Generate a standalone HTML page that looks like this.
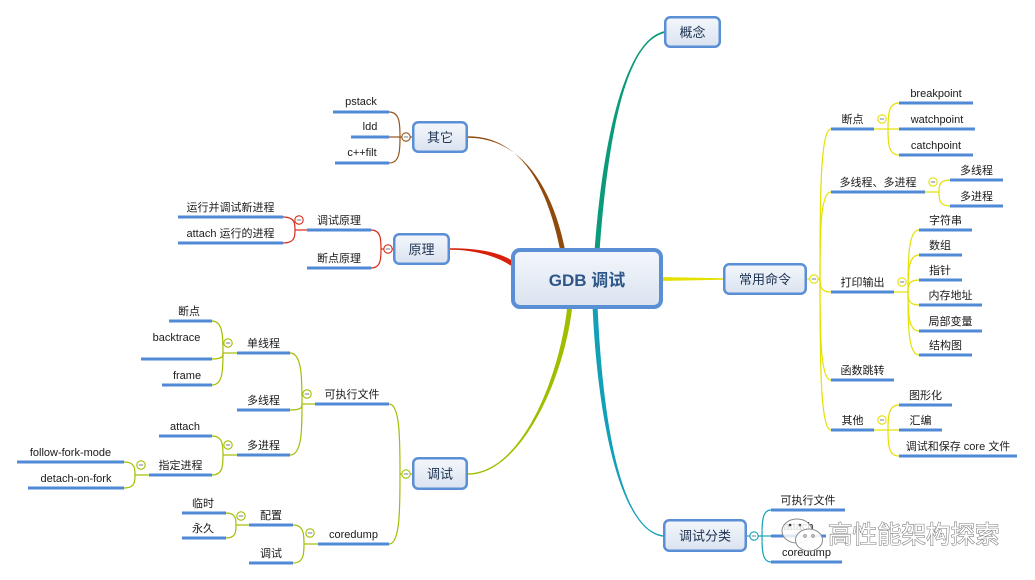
<!DOCTYPE html>
<html>
<head>
<meta charset="utf-8">
<style>
html,body{margin:0;padding:0;background:#fff;}
svg{display:block;}
.t{font-family:"Liberation Sans","Noto Sans CJK SC",sans-serif;font-size:11px;fill:#1a1a1a;text-anchor:middle;}
.n{font-family:"Liberation Sans","Noto Sans CJK SC",sans-serif;font-size:13px;fill:#1c3150;text-anchor:middle;}
.u{stroke:#5089d6;stroke-width:3;fill:none;}
.br{fill:none;stroke-width:1.2;}
.c{fill:#fff;stroke-width:1.1;}
.m{stroke:#6f7f95;stroke-width:1;}
</style>
</head>
<body>
<svg width="1035" height="580" viewBox="0 0 1035 580" xmlns="http://www.w3.org/2000/svg">
<defs>
<linearGradient id="g" x1="0" y1="0" x2="0" y2="1">
<stop offset="0" stop-color="#f4f7fc"/>
<stop offset="1" stop-color="#dae3f0"/>
</linearGradient>
</defs>

<!-- main tapered connectors -->
<path d="M599.5,252 C607.5,140 625,41 665,33 L665,31 C625,39 602.5,140 594.5,252 Z" fill="#0b9a7a"/>
<path d="M565.5,252 C552.5,185 520,137.75 468,137.75 L468,136.25 C520,136.25 547.5,185 560.5,252 Z" fill="#8f4a0c"/>
<path d="M514.4,261.9 C496.4,249.9 470,248.25 450,248.25 L450,249.75 C470,249.75 493.6,254.1 511.6,266.1 Z" fill="#d8210b"/>
<path d="M660,277 L723,278.3 L723,279.7 L660,281 Z" fill="#e4e000"/>
<path d="M572.5,305 C564.5,380 520,474.75 468,474.75 L468,473.25 C520,473.25 559.5,380 567.5,305 Z" fill="#a2bd00"/>
<path d="M592.5,305 C597.5,420 620,530.75 663,536.75 L663,535.25 C620,529.25 602.5,420 597.5,305 Z" fill="#12a0b8"/>

<!-- nodes -->
<rect x="513" y="250" width="148" height="57" rx="7" fill="url(#g)" stroke="#5a8fd6" stroke-width="4"/>
<text x="587" y="286" style="font-family:'Liberation Sans','Noto Sans CJK SC',sans-serif;font-size:17px;font-weight:bold;fill:#2e5689;text-anchor:middle;">GDB 调试</text>

<rect x="665.25" y="17.25" width="54.5" height="29.5" rx="5" fill="url(#g)" stroke="#5a8fd6" stroke-width="2.5"/>
<text class="n" x="692.5" y="37">概念</text>
<rect x="413.25" y="122.25" width="53.5" height="29.5" rx="5" fill="url(#g)" stroke="#5a8fd6" stroke-width="2.5"/>
<text class="n" x="440" y="142">其它</text>
<rect x="394.25" y="234.25" width="54.5" height="29.5" rx="5" fill="url(#g)" stroke="#5a8fd6" stroke-width="2.5"/>
<text class="n" x="421.5" y="254">原理</text>
<rect x="724.25" y="264.25" width="81.5" height="29.5" rx="5" fill="url(#g)" stroke="#5a8fd6" stroke-width="2.5"/>
<text class="n" x="765" y="284">常用命令</text>
<rect x="413.25" y="458.25" width="53.5" height="30.5" rx="5" fill="url(#g)" stroke="#5a8fd6" stroke-width="2.5"/>
<text class="n" x="440" y="478.5">调试</text>
<rect x="664.25" y="520.25" width="81.5" height="30.5" rx="5" fill="url(#g)" stroke="#5a8fd6" stroke-width="2.5"/>
<text class="n" x="705" y="540.5">调试分类</text>

<!-- brown: 其它 -->
<g class="br" stroke="#98541a">
<path d="M400,137 L412,137"/>
<path d="M389,112 C400,112 400,124.5 400,137"/>
<path d="M389,137 L400,137"/>
<path d="M389,163 C400,163 400,150 400,137"/>
</g>

<!-- red: 原理 -->
<g class="br" stroke="#d82a18">
<path d="M381,249 L393,249"/>
<path d="M371,230 C381,230 381,239.5 381,249"/>
<path d="M371,268 C381,268 381,258.5 381,249"/>
<path d="M295,230 L307,230"/>
<path d="M283,217 C295,217 295,223.5 295,230"/>
<path d="M283,243 C295,243 295,236.5 295,230"/>
</g>

<!-- green: 调试 -->
<g class="br" stroke="#a4bd00">
<path d="M400,474 L412,474"/>
<path d="M389,404 C400,404 400,439 400,474"/>
<path d="M389,544 C400,544 400,509 400,474"/>
<path d="M302,404 L315,404"/>
<path d="M290,353 C302,353 302,378.5 302,404"/>
<path d="M290,410 C302,410 302,407 302,404"/>
<path d="M290,455 C302,455 302,429.5 302,404"/>
<path d="M223,353 L237,353"/>
<path d="M212,321 C223,321 223,337 223,353"/>
<path d="M212,359 C223,359 223,356 223,353"/>
<path d="M212,385 C223,385 223,369 223,353"/>
<path d="M223,455 L237,455"/>
<path d="M212,436 C223,436 223,445.5 223,455"/>
<path d="M212,475 C223,475 223,465 223,455"/>
<path d="M135,475 L149,475"/>
<path d="M124,462 C135,462 135,468.5 135,475"/>
<path d="M124,488 C135,488 135,481.5 135,475"/>
<path d="M304,544 L318,544"/>
<path d="M293,525 C304,525 304,534.5 304,544"/>
<path d="M293,563 C304,563 304,553.5 304,544"/>
<path d="M236,525 L249,525"/>
<path d="M226,513 C236,513 236,519 236,525"/>
<path d="M226,538 C236,538 236,531.5 236,525"/>
</g>

<!-- yellow: 常用命令 -->
<g class="br" stroke="#e4e000">
<path d="M807,279 L820,279"/>
<path d="M820,279 C820,204 820,129 831,129"/>
<path d="M820,279 C820,235.5 820,192 831,192"/>
<path d="M820,279 C820,285.5 820,292 831,292"/>
<path d="M820,279 C820,329.5 820,380 831,380"/>
<path d="M820,279 C820,354.5 820,430 831,430"/>
<path d="M874,129 L888,129"/>
<path d="M888,129 C888,116 888,103 899,103"/>
<path d="M888,129 L899,129"/>
<path d="M888,129 C888,142 888,155 899,155"/>
<path d="M925,192 L939,192"/>
<path d="M939,192 C939,186 939,180 950,180"/>
<path d="M939,192 C939,199 939,206 950,206"/>
<path d="M894,292 L908,292"/>
<path d="M908,292 C908,261 908,230 919,230"/>
<path d="M908,292 C908,273.5 908,255 919,255"/>
<path d="M908,292 C908,286 908,280 919,280"/>
<path d="M908,292 C908,298.5 908,305 919,305"/>
<path d="M908,292 C908,311.5 908,331 919,331"/>
<path d="M908,292 C908,323.5 908,355 919,355"/>
<path d="M874,430 L888,430"/>
<path d="M888,430 C888,417.5 888,405 899,405"/>
<path d="M888,430 L899,430"/>
<path d="M888,430 C888,443 888,456 899,456"/>
</g>

<!-- teal: 调试分类 -->
<g class="br" stroke="#18a0b8">
<path d="M747,536 L762,536"/>
<path d="M762,536 C762,523 762,510 771,510"/>
<path d="M762,536 L771,536"/>
<path d="M762,536 C762,549 762,562 771,562"/>
</g>

<!-- underlines -->
<g class="u">
<path d="M333,112H389M351,137H389M335,163H389"/>
<path d="M307,230H371M307,268H371M178,217H283M178,243H283"/>
<path d="M315,404H389M318,544H389M237,353H290M237,410H290M237,455H290"/>
<path d="M169,321H212M141,359H212M162,385H212M159,436H212M149,475H212"/>
<path d="M17,462H124M28,488H124M249,525H293M249,563H293M182,513H226M182,538H226"/>
<path d="M831,129H874M831,192H925M831,292H894M831,380H894M831,430H874"/>
<path d="M899,103H973M899,129H975M899,155H973M950,180H1003M950,206H1003"/>
<path d="M919,230H972M919,255H962M919,280H962M919,305H982M919,331H982M919,355H972"/>
<path d="M899,405H952M899,430H942M899,456H1017"/>
<path d="M771,510H845M771,536H826M771,562H842"/>
</g>

<!-- collapse circles -->
<g>
<circle class="c" cx="406" cy="137" r="4.2" stroke="#98541a"/><path class="m" d="M403.8,137H408.2"/>
<circle class="c" cx="388" cy="249" r="4.2" stroke="#d82a18"/><path class="m" d="M385.8,249H390.2"/>
<circle class="c" cx="299" cy="220" r="4.2" stroke="#d82a18"/><path class="m" d="M296.8,220H301.2"/>
<circle class="c" cx="406" cy="474" r="4.2" stroke="#a4bd00"/><path class="m" d="M403.8,474H408.2"/>
<circle class="c" cx="307" cy="394" r="4.2" stroke="#a4bd00"/><path class="m" d="M304.8,394H309.2"/>
<circle class="c" cx="228" cy="343" r="4.2" stroke="#a4bd00"/><path class="m" d="M225.8,343H230.2"/>
<circle class="c" cx="228" cy="445" r="4.2" stroke="#a4bd00"/><path class="m" d="M225.8,445H230.2"/>
<circle class="c" cx="141" cy="465" r="4.2" stroke="#a4bd00"/><path class="m" d="M138.8,465H143.2"/>
<circle class="c" cx="310" cy="533" r="4.2" stroke="#a4bd00"/><path class="m" d="M307.8,533H312.2"/>
<circle class="c" cx="241" cy="516" r="4.2" stroke="#a4bd00"/><path class="m" d="M238.8,516H243.2"/>
<circle class="c" cx="814" cy="279" r="4.2" stroke="#e4e000"/><path class="m" d="M811.8,279H816.2"/>
<circle class="c" cx="882" cy="119" r="4.2" stroke="#e4e000"/><path class="m" d="M879.8,119H884.2"/>
<circle class="c" cx="933" cy="182" r="4.2" stroke="#e4e000"/><path class="m" d="M930.8,182H935.2"/>
<circle class="c" cx="902" cy="282" r="4.2" stroke="#e4e000"/><path class="m" d="M899.8,282H904.2"/>
<circle class="c" cx="882" cy="420" r="4.2" stroke="#e4e000"/><path class="m" d="M879.8,420H884.2"/>
<circle class="c" cx="754" cy="536" r="4.2" stroke="#18a0b8"/><path class="m" d="M751.8,536H756.2"/>
</g>

<!-- labels left -->
<text class="t" x="361" y="105">pstack</text>
<text class="t" x="370" y="130">ldd</text>
<text class="t" x="362" y="156">c++filt</text>
<text class="t" x="339" y="224">调试原理</text>
<text class="t" x="339" y="262">断点原理</text>
<text class="t" x="230.5" y="211">运行并调试新进程</text>
<text class="t" x="230.5" y="237">attach 运行的进程</text>
<text class="t" x="352" y="398">可执行文件</text>
<text class="t" x="353.5" y="538">coredump</text>
<text class="t" x="263.5" y="347">单线程</text>
<text class="t" x="263.5" y="404">多线程</text>
<text class="t" x="263.5" y="449">多进程</text>
<text class="t" x="189" y="315">断点</text>
<text class="t" x="176.5" y="341">backtrace</text>
<text class="t" x="187" y="379">frame</text>
<text class="t" x="185" y="430">attach</text>
<text class="t" x="180.5" y="469">指定进程</text>
<text class="t" x="70.5" y="456">follow-fork-mode</text>
<text class="t" x="76" y="482">detach-on-fork</text>
<text class="t" x="271" y="519">配置</text>
<text class="t" x="271" y="557">调试</text>
<text class="t" x="203" y="507">临时</text>
<text class="t" x="203" y="532">永久</text>

<!-- labels right -->
<text class="t" x="852.5" y="123">断点</text>
<text class="t" x="878" y="186">多线程、多进程</text>
<text class="t" x="862.5" y="286">打印输出</text>
<text class="t" x="862.5" y="374">函数跳转</text>
<text class="t" x="852.5" y="424">其他</text>
<text class="t" x="936" y="97">breakpoint</text>
<text class="t" x="937" y="123">watchpoint</text>
<text class="t" x="936" y="149">catchpoint</text>
<text class="t" x="976.5" y="174">多线程</text>
<text class="t" x="976.5" y="200">多进程</text>
<text class="t" x="945.5" y="224">字符串</text>
<text class="t" x="940" y="249">数组</text>
<text class="t" x="940" y="274">指针</text>
<text class="t" x="950.5" y="299">内存地址</text>
<text class="t" x="950.5" y="325">局部变量</text>
<text class="t" x="945.5" y="349">结构图</text>
<text class="t" x="925.5" y="399">图形化</text>
<text class="t" x="920.5" y="424">汇编</text>
<text class="t" x="958" y="450">调试和保存 core 文件</text>
<text class="t" x="808" y="504">可执行文件</text>
<text class="t" x="798.5" y="530">attach</text>
<text class="t" x="806.5" y="556">coredump</text>

<!-- watermark -->
<g>
<ellipse cx="797" cy="531" rx="15" ry="12" fill="#fff" fill-opacity="0.82" stroke="#8a8a8a" stroke-width="1"/>
<circle cx="790" cy="525" r="1.3" fill="#333"/>
<circle cx="800" cy="525" r="1.3" fill="#555"/>
<ellipse cx="809" cy="540" rx="13.5" ry="11" fill="#fff" fill-opacity="0.9" stroke="#8a8a8a" stroke-width="1"/>
<circle cx="805" cy="536" r="1.3" fill="none" stroke="#777" stroke-width="0.8"/>
<circle cx="813" cy="536" r="1.3" fill="none" stroke="#777" stroke-width="0.8"/>
<text x="828" y="543" style="font-family:'Noto Sans CJK SC',sans-serif;font-size:24.5px;fill:#fff;stroke:#7c7c7c;stroke-width:1.1px;paint-order:stroke;">高性能架构探索</text>
</g>
</svg>
</body>
</html>
